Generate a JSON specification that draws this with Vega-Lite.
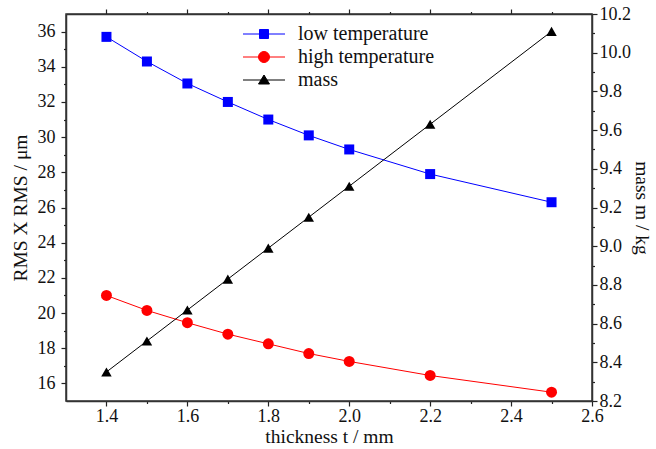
{
  "$schema": "https://vega.github.io/schema/vega-lite/v6.json",
  "autosize": "none",
  "width": 526,
  "height": 387,
  "padding": {"left": 66, "top": 14, "right": 64, "bottom": 48},
  "background": "white",
  "config": {
    "font": "Liberation Serif",
    "view": {"stroke": "#333", "strokeWidth": 1.5},
    "axis": {
      "domainColor": "#333", "domainWidth": 1.5,
      "ticks": true, "tickColor": "#222", "tickWidth": 1.2, "tickSize": 5, "tickOpacity": 1,
      "labelColor": "#111", "labelFont": "Liberation Serif", "labelFontSize": 18,
      "titleFont": "Liberation Serif", "titleFontSize": 19.5, "titleFontWeight": "normal", "titleColor": "#111",
      "grid": false, "labelOverlap": false, "labelFlush": false
    },
    "legend": {
      "orient": "none", "legendX": 172, "legendY": 10, "padding": 0,
      "labelFont": "Liberation Serif", "labelFontSize": 20, "labelColor": "#111",
      "symbolSize": 100, "symbolOffset": 16, "labelOffset": 24, "rowPadding": 3, "symbolStrokeWidth": 1
    }
  },
  "data": {"values": [
    {"t": 1.4, "series": "low temperature", "v": 35.7},
    {"t": 1.5, "series": "low temperature", "v": 34.3},
    {"t": 1.6, "series": "low temperature", "v": 33.05},
    {"t": 1.7, "series": "low temperature", "v": 32.0},
    {"t": 1.8, "series": "low temperature", "v": 31.0},
    {"t": 1.9, "series": "low temperature", "v": 30.1},
    {"t": 2.0, "series": "low temperature", "v": 29.3},
    {"t": 2.2, "series": "low temperature", "v": 27.9},
    {"t": 2.5, "series": "low temperature", "v": 26.3},
    {"t": 1.4, "series": "high temperature", "v": 21.0},
    {"t": 1.5, "series": "high temperature", "v": 20.15},
    {"t": 1.6, "series": "high temperature", "v": 19.45},
    {"t": 1.7, "series": "high temperature", "v": 18.8},
    {"t": 1.8, "series": "high temperature", "v": 18.25},
    {"t": 1.9, "series": "high temperature", "v": 17.7},
    {"t": 2.0, "series": "high temperature", "v": 17.25},
    {"t": 2.2, "series": "high temperature", "v": 16.45},
    {"t": 2.5, "series": "high temperature", "v": 15.5},
    {"t": 1.4, "series": "mass", "v": 8.35},
    {"t": 1.5, "series": "mass", "v": 8.51},
    {"t": 1.6, "series": "mass", "v": 8.67},
    {"t": 1.7, "series": "mass", "v": 8.83},
    {"t": 1.8, "series": "mass", "v": 8.99},
    {"t": 1.9, "series": "mass", "v": 9.15},
    {"t": 2.0, "series": "mass", "v": 9.31},
    {"t": 2.2, "series": "mass", "v": 9.63},
    {"t": 2.5, "series": "mass", "v": 10.11}
  ]},
  "layer": [
    {
      "transform": [{"filter": "datum.series !== 'mass'"}],
      "encoding": {
        "x": {"field": "t", "type": "quantitative",
          "scale": {"domain": [1.3, 2.6], "nice": false, "zero": false},
          "axis": {"orient": "bottom", "title": "thickness t / mm", "titlePadding": 2,
            "values": [1.4, 1.5, 1.6, 1.7, 1.8, 1.9, 2.0, 2.1, 2.2, 2.3, 2.4, 2.5, 2.6],
            "labelExpr": "round(datum.value*10)%2==0 ? format(datum.value,'.1f') : ''",
            "tickDash": {"condition": {"test": "round(datum.value*10)%2==1", "value": [2.5, 20]}, "value": [5, 0]},
            "labelPadding": 1}},
        "y": {"field": "v", "type": "quantitative",
          "scale": {"domain": [15, 37], "nice": false, "zero": false},
          "axis": {"orient": "left", "title": "RMS X RMS / μm", "titlePadding": 7,
            "values": [16, 17, 18, 19, 20, 21, 22, 23, 24, 25, 26, 27, 28, 29, 30, 31, 32, 33, 34, 35, 36],
            "labelExpr": "datum.value%2==0 ? datum.label : ''",
            "tickDash": {"condition": {"test": "datum.value%2==1", "value": [2.5, 20]}, "value": [5, 0]},
            "labelPadding": 6}},
        "color": {"field": "series", "type": "nominal",
          "scale": {"domain": ["low temperature", "high temperature", "mass"], "range": ["#0000ff", "#ff0000", "#000000"]},
          "legend": {"title": null,
            "encode": {"symbols": {"update": {
              "shape": {"signal": "datum.value === 'low temperature' ? 'M-4.2,0H4.2M-0.9,-0.9H0.9V0.9H-0.9Z' : datum.value === 'high temperature' ? 'M-4.2,0H4.2M1.1,0A1.1,1.1 0 1,1 -1.1,0A1.1,1.1 0 1,1 1.1,0Z' : 'M-4.2,0H4.2M0,-1.0L1.1,0.8L-1.1,0.8Z'"},
              "stroke": {"signal": "datum.value === 'low temperature' ? '#3333cc' : datum.value === 'high temperature' ? '#dd2222' : '#000000'"},
              "strokeWidth": {"value": 1}
            }}}}}
      },
      "layer": [
        {"mark": {"type": "line", "strokeWidth": 1}},
        {"transform": [{"filter": "datum.series === 'low temperature'"}],
         "mark": {"type": "point", "filled": true, "opacity": 1, "size": 100, "shape": "square"}},
        {"transform": [{"filter": "datum.series === 'high temperature'"}],
         "mark": {"type": "point", "filled": true, "opacity": 1, "size": 120, "shape": "circle"}}
      ]
    },
    {
      "transform": [{"filter": "datum.series === 'mass'"}],
      "encoding": {
        "x": {"field": "t", "type": "quantitative",
          "scale": {"domain": [1.3, 2.6], "nice": false, "zero": false},
          "axis": {"orient": "top", "title": null, "labels": false,
            "values": [1.4, 1.5, 1.6, 1.7, 1.8, 1.9, 2.0, 2.1, 2.2, 2.3, 2.4, 2.5],
            "tickDash": {"condition": {"test": "round(datum.value*10)%2==1", "value": [2.5, 20]}, "value": [5, 0]}}},
        "y": {"field": "v", "type": "quantitative",
          "scale": {"domain": [8.2, 10.2], "nice": false, "zero": false},
          "axis": {"orient": "right", "title": "mass m / kg", "titlePadding": 1,
            "values": [8.2, 8.3, 8.4, 8.5, 8.6, 8.7, 8.8, 8.9, 9.0, 9.1, 9.2, 9.3, 9.4, 9.5, 9.6, 9.7, 9.8, 9.9, 10.0, 10.1, 10.2],
            "labelExpr": "round(datum.value*10)%2==0 ? format(datum.value,'.1f') : ''",
            "tickDash": {"condition": {"test": "round(datum.value*10)%2==1", "value": [2.5, 20]}, "value": [5, 0]},
            "labelPadding": 2}},
        "color": {"field": "series", "type": "nominal"}
      },
      "layer": [
        {"mark": {"type": "line", "strokeWidth": 1}},
        {"mark": {"type": "point", "filled": true, "opacity": 1, "size": 110, "shape": "triangle-up"}}
      ]
    }
  ],
  "resolve": {"scale": {"y": "independent"}, "axis": {"x": "independent"}}
}
